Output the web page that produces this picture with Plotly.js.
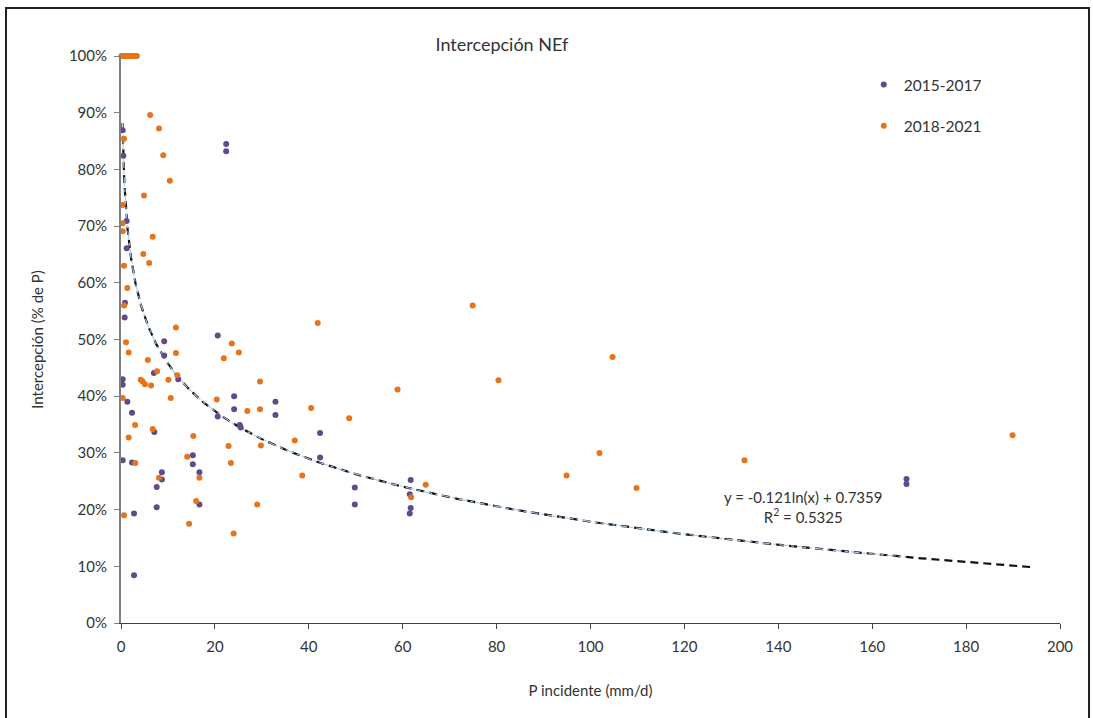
<!DOCTYPE html>
<html>
<head>
<meta charset="utf-8">
<script src="https://cdn.plot.ly/plotly-3.0.1.min.js"></script>
<style>
  html, body { margin: 0; padding: 0; background: #ffffff; }
  #chart { width: 1093px; height: 718px; }
</style>
</head>
<body>
<div id="chart"></div>
<script>
// Precipitación incidente (mm/d) e intercepción (% de P), periodo 2015-2017
const x2015 = [0.36, 0.5, 1.2, 1.2, 0.85, 0.78, 9.2, 9.2, 20.6, 7.0, 12.2, 0.36, 0.36, 1.35, 2.35,
  20.6, 7.1, 0.36, 2.35, 15.3, 15.3, 8.7, 8.7, 16.7, 7.6, 16.7, 7.6, 2.77, 2.77, 22.4, 22.4,
  24.1, 32.9, 24.1, 32.9, 25.3, 25.5, 42.4, 42.4, 49.8, 49.8, 61.7, 61.5, 61.7, 61.5, 167.3, 167.3];
const y2015 = [86.9, 82.4, 70.9, 66.1, 56.5, 53.9, 49.7, 47.2, 50.7, 44.1, 43.0, 43.0, 42.0, 39.0, 37.1,
  36.4, 33.7, 28.7, 28.3, 29.6, 28.0, 26.6, 25.3, 26.6, 24.0, 20.9, 20.4, 19.3, 8.4, 84.5, 83.2,
  40.0, 39.0, 37.7, 36.7, 34.9, 34.5, 33.5, 29.2, 23.9, 20.9, 25.2, 22.7, 20.3, 19.3, 25.4, 24.5];

// Periodo 2018-2021
const x2018 = [0.1, 0.4, 0.7, 1.0, 1.4, 1.8, 2.2, 2.6, 3.0, 3.4,
  6.2, 8.1, 9.0, 10.4, 4.9, 0.64, 0.36, 0.36, 0.36, 6.75, 4.75, 6.0, 0.64, 1.35, 0.64,
  11.7, 1.06, 1.63, 11.7, 5.7, 7.7, 4.2, 4.6, 5.1, 6.4, 10.1, 12.0, 10.6, 0.36, 20.4,
  3.0, 6.75, 1.63, 15.4, 3.05, 14.1, 8.1, 16.7, 16.0, 0.64, 14.5,
  41.9, 23.6, 21.9, 25.1, 29.6, 58.9, 26.9, 29.6, 40.5, 48.6, 22.9, 29.8, 37.0, 23.4,
  38.6, 29.0, 24.0, 61.8, 64.9, 74.9, 104.7, 80.4, 101.9, 94.9, 109.8, 132.8, 189.9];
const y2018 = [100, 100, 100, 100, 100, 100, 100, 100, 100, 100,
  89.6, 87.2, 82.5, 78.0, 75.4, 85.4, 73.7, 70.5, 69.1, 68.1, 65.1, 63.5, 63.0, 59.1, 56.0,
  52.1, 49.5, 47.7, 47.6, 46.4, 44.4, 42.9, 42.6, 42.1, 41.9, 42.9, 43.7, 39.7, 39.7, 39.4,
  34.9, 34.2, 32.7, 33.0, 28.2, 29.3, 25.6, 25.6, 21.5, 19.0, 17.5,
  52.9, 49.3, 46.7, 47.7, 42.6, 41.2, 37.4, 37.7, 37.9, 36.1, 31.2, 31.3, 32.2, 28.2,
  26.0, 20.9, 15.8, 22.2, 24.4, 56.0, 46.9, 42.8, 30.0, 26.0, 23.8, 28.7, 33.1];

// Ajuste logarítmico: y = a·ln(x) + b
const fitA = -0.121;
const fitB = 0.7359;
const fitR2 = 0.5325;
const fitStart = 0.3;
const fitEndAll = 194;
const fitEndFirst = 167.3;

const xTicks = [0, 20, 40, 60, 80, 100, 120, 140, 160, 180, 200];
const yTicks = [0, 10, 20, 30, 40, 50, 60, 70, 80, 90, 100];

function fitCurve(x0, x1, n) {
  const xs = [], ys = [];
  const l0 = Math.log(x0), l1 = Math.log(x1);
  for (let i = 0; i <= n; i++) {
    const x = Math.exp(l0 + (l1 - l0) * i / n);
    xs.push(x);
    ys.push((fitA * Math.log(x) + fitB) * 100);
  }
  return { xs, ys };
}

const curveAll = fitCurve(fitStart, fitEndAll, 300);
const curveFirst = fitCurve(fitStart, fitEndFirst, 300);

const FONT = 'Lato, "Open Sans", sans-serif';
const TXT = '#333333';

const traces = [
  {
    x: curveAll.xs, y: curveAll.ys, type: 'scatter', mode: 'lines',
    line: { color: '#111111', width: 2.2, dash: '8px,5px' },
    showlegend: false, hoverinfo: 'skip'
  },
  {
    x: curveFirst.xs, y: curveFirst.ys, type: 'scatter', mode: 'lines',
    line: { color: '#a9c9e8', width: 1.1, dash: 'dashdot' },
    showlegend: false, hoverinfo: 'skip'
  },
  {
    x: x2015, y: y2015, type: 'scatter', mode: 'markers', name: '2015-2017',
    legendgroup: 'a', cliponaxis: false,
    marker: { color: '#5f4b8b', size: 6 }
  },
  {
    x: x2018, y: y2018, type: 'scatter', mode: 'markers', name: '2018-2021',
    legendgroup: 'b', cliponaxis: false,
    marker: { color: '#e8731a', size: 6 }
  }
];

const layout = {
  width: 1093, height: 718,
  margin: { l: 121, r: 33, t: 56, b: 95 },
  paper_bgcolor: '#ffffff', plot_bgcolor: '#ffffff',
  font: { family: FONT, color: TXT },
  title: {
    text: 'Intercepción NEf',
    x: 0.4057, xref: 'paper', xanchor: 'center',
    y: 0.9373, yref: 'container', yanchor: 'middle',
    font: { family: FONT, size: 18, color: TXT }
  },
  xaxis: {
    range: [0, 200], tickvals: xTicks, ticktext: xTicks.map(String),
    ticks: 'outside', ticklen: 5, tickcolor: '#404040', tickwidth: 1,
    ticklabelstandoff: 5,
    showline: true, linecolor: '#404040', linewidth: 1,
    showgrid: false, zeroline: false,
    tickfont: { family: FONT, size: 15, color: TXT },
    title: { text: 'P incidente (mm/d)', standoff: 31, font: { family: FONT, size: 15, color: TXT } }
  },
  yaxis: {
    range: [0, 100], tickvals: yTicks, ticktext: yTicks.map(v => v + '%'),
    ticks: 'outside', ticklen: 5, tickcolor: '#7f7f7f', tickwidth: 1,
    ticklabelstandoff: 4,
    showline: true, linecolor: '#808080', linewidth: 2,
    showgrid: false, zeroline: false,
    tickfont: { family: FONT, size: 15, color: TXT },
    title: { text: 'Intercepción (% de P)', standoff: 22, font: { family: FONT, size: 15, color: TXT } }
  },
  legend: {
    x: 0.791, y: 0.979, xanchor: 'left', yanchor: 'top',
    bgcolor: 'rgba(0,0,0,0)', traceorder: 'grouped', tracegroupgap: 18,
    font: { family: FONT, size: 15.5, color: TXT }
  },
  annotations: [
    {
      x: 145.3, y: 20.4, xref: 'x', yref: 'y',
      text: 'y = ' + fitA + 'ln(x) + ' + fitB + '<br>R<sup>2</sup> = ' + fitR2,
      showarrow: false, xanchor: 'center', yanchor: 'middle', align: 'center',
      font: { family: FONT, size: 15, color: TXT }
    }
  ],
  shapes: [
    {
      type: 'rect', xref: 'paper', yref: 'paper',
      x0: -0.12247, x1: 1.0309, y0: -0.171, y1: 1.08466,
      line: { color: '#222222', width: 2 }
    }
  ]
};

Plotly.newPlot('chart', traces, layout, { displayModeBar: false, staticPlot: true });
</script>
</body>
</html>
